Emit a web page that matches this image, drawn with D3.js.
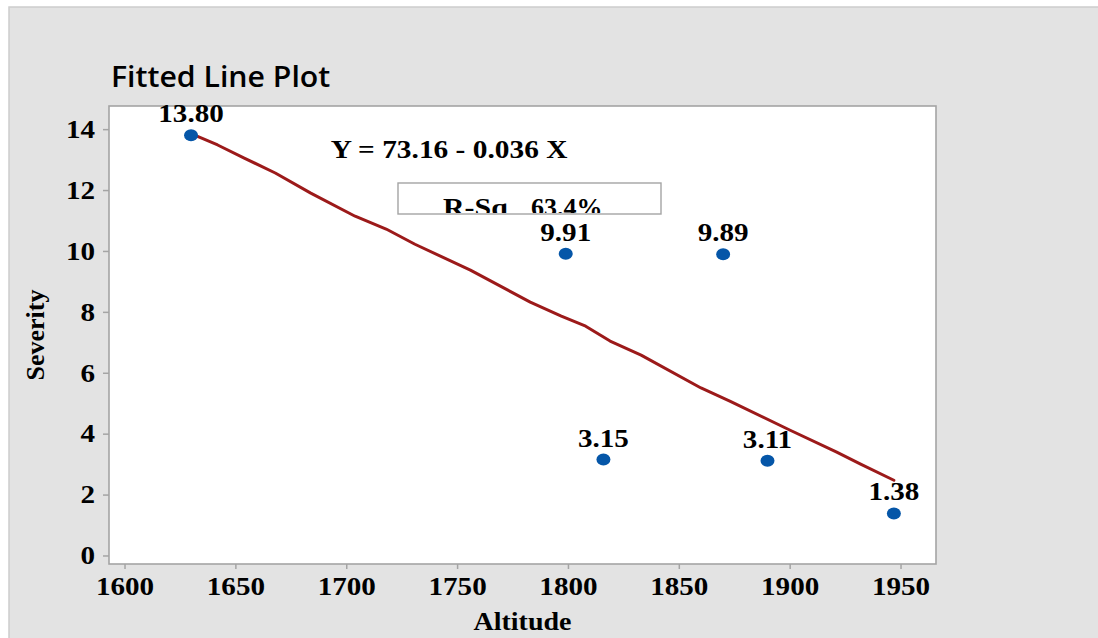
<!DOCTYPE html>
<html><head><meta charset="utf-8">
<script src="https://cdn.jsdelivr.net/npm/d3@7"></script>
<style>
body{margin:0;background:#fff;}
text{font-family:"Liberation Serif","Times New Roman",serif;font-weight:bold;fill:#000;}
</style>
</head><body><svg id="c" width="1098" height="638"></svg>
<script>
// ---- data ----
const altitude = [1630, 1799, 1816, 1870, 1890, 1947];
const severity = [13.80, 9.91, 3.15, 9.89, 3.11, 1.38];
const pointLabels = ["13.80", "9.91", "3.15", "9.89", "3.11", "1.38"];
const fitAltitude = [1630, 1642, 1654, 1668, 1684, 1704, 1718, 1731, 1756, 1783, 1797, 1808, 1819, 1833, 1860, 1873, 1900, 1921, 1932, 1947];
const fitSeverity = [13.85, 13.48, 13.05, 12.56, 11.90, 11.14, 10.72, 10.22, 9.37, 8.32, 7.86, 7.53, 7.04, 6.58, 5.50, 5.07, 4.12, 3.40, 3.00, 2.47];
const xTicks = [1600, 1650, 1700, 1750, 1800, 1850, 1900, 1950];
const yTicks = [0, 2, 4, 6, 8, 10, 12, 14];
const titleText = "Fitted Line Plot";
const xTitle = "Altitude";
const yTitle = "Severity";
const equationText = "Y = 73.16 - 0.036 X";
const rsqLabel = "R-Sq";
const rsqValue = "63.4%";

// ---- layout ----
const W = 1098, H = 638;
const plot = {l: 109, t: 106, r: 936, b: 564};
const SX = 1.12; // horizontal stretch of the original rendering
const FS = 26;
const svg = d3.select("#c");

svg.append("rect").attr("x", 9).attr("y", 7).attr("width", W).attr("height", H)
  .attr("fill", "#e3e3e3").attr("stroke", "#cdcdcd").attr("stroke-width", 1.5);

const x = d3.scaleLinear().domain([1593, 1966]).range([plot.l, plot.r]);
const y = d3.scaleLinear().domain([-0.28, 14.76]).range([plot.b, plot.t]);

svg.append("rect").attr("x", plot.l).attr("y", plot.t)
  .attr("width", plot.r - plot.l).attr("height", plot.b - plot.t)
  .attr("fill", "#fff").attr("stroke", "#a4a4a4").attr("stroke-width", 1.6);

function stext(parent, px, py, str, size, anchor, sx) {
  const g = parent.append("g").attr("transform", `translate(${px},${py}) scale(${sx},1)`);
  return g.append("text").attr("text-anchor", anchor).style("font-size", size + "px").text(str);
}

// axes
const xAxis = svg.append("g").attr("transform", `translate(0,${plot.b})`)
  .call(d3.axisBottom(x).tickValues(xTicks).tickSize(5).tickSizeOuter(0).tickPadding(9).tickFormat(d3.format("d")));
const yAxis = svg.append("g").attr("transform", `translate(${plot.l},0)`)
  .call(d3.axisLeft(y).tickValues(yTicks).tickSize(6).tickSizeOuter(0).tickPadding(8).tickFormat(d3.format("d")));
[xAxis, yAxis].forEach(a => {
  a.select(".domain").remove();
  a.selectAll(".tick line").attr("stroke", "#a4a4a4").attr("stroke-width", 1.5);
  a.selectAll(".tick text").attr("font-family", null).attr("font-size", null)
    .style("font-size", FS + "px").attr("fill", "#000");
});
xAxis.selectAll(".tick text").attr("dy", "0.66em").attr("transform", `scale(${SX},1)`);
yAxis.selectAll(".tick text").attr("transform", `scale(${SX},1)`).attr("x", -14 / SX);

// titles
stext(svg, 111, 87, titleText, 28, "start", 1.08)
  .style("font-family", "'Open Sans','Noto Sans',sans-serif").style("font-weight", "600");
stext(svg, (plot.l + plot.r) / 2, 630, xTitle, 25, "middle", SX);
svg.append("text").attr("transform", `translate(44,${(plot.t + plot.b) / 2}) rotate(-90)`)
  .attr("text-anchor", "middle").style("font-size", "26px").text(yTitle);

// fitted line
svg.append("path")
  .datum(fitAltitude.map((a, i) => [a, fitSeverity[i]]))
  .attr("d", d3.line().x(d => x(d[0])).y(d => y(d[1])))
  .attr("fill", "none").attr("stroke", "#9c1a1a").attr("stroke-width", 3)
  .attr("stroke-linejoin", "round").attr("stroke-linecap", "round");

// points
const pts = altitude.map((a, i) => ({a, s: severity[i], lab: pointLabels[i]}));
svg.selectAll("ellipse.pt").data(pts).join("ellipse").attr("class", "pt")
  .attr("cx", d => x(d.a)).attr("cy", d => y(d.s)).attr("rx", 7).attr("ry", 6)
  .attr("fill", "#0556a8");

// equation & R-sq box
stext(svg, 449, 158, equationText, FS, "middle", 1.13);
const box = {x: 398, y: 183, w: 263, h: 31};
svg.append("rect").attr("x", box.x).attr("y", box.y).attr("width", box.w).attr("height", box.h)
  .attr("fill", "#fff").attr("stroke", "#a4a4a4").attr("stroke-width", 1.4);
svg.append("clipPath").attr("id", "boxclip").append("rect")
  .attr("x", box.x).attr("y", box.y).attr("width", box.w).attr("height", box.h - 1);
const bg = svg.append("g").attr("clip-path", "url(#boxclip)");
stext(bg, 443, 216, rsqLabel, FS, "start", 1.15);
stext(bg, 531, 216, rsqValue, FS, "start", 1.0);

// point labels
pts.forEach(d => stext(svg, x(d.a), y(d.s) - 13, d.lab, FS, "middle", SX));
</script></body></html>
